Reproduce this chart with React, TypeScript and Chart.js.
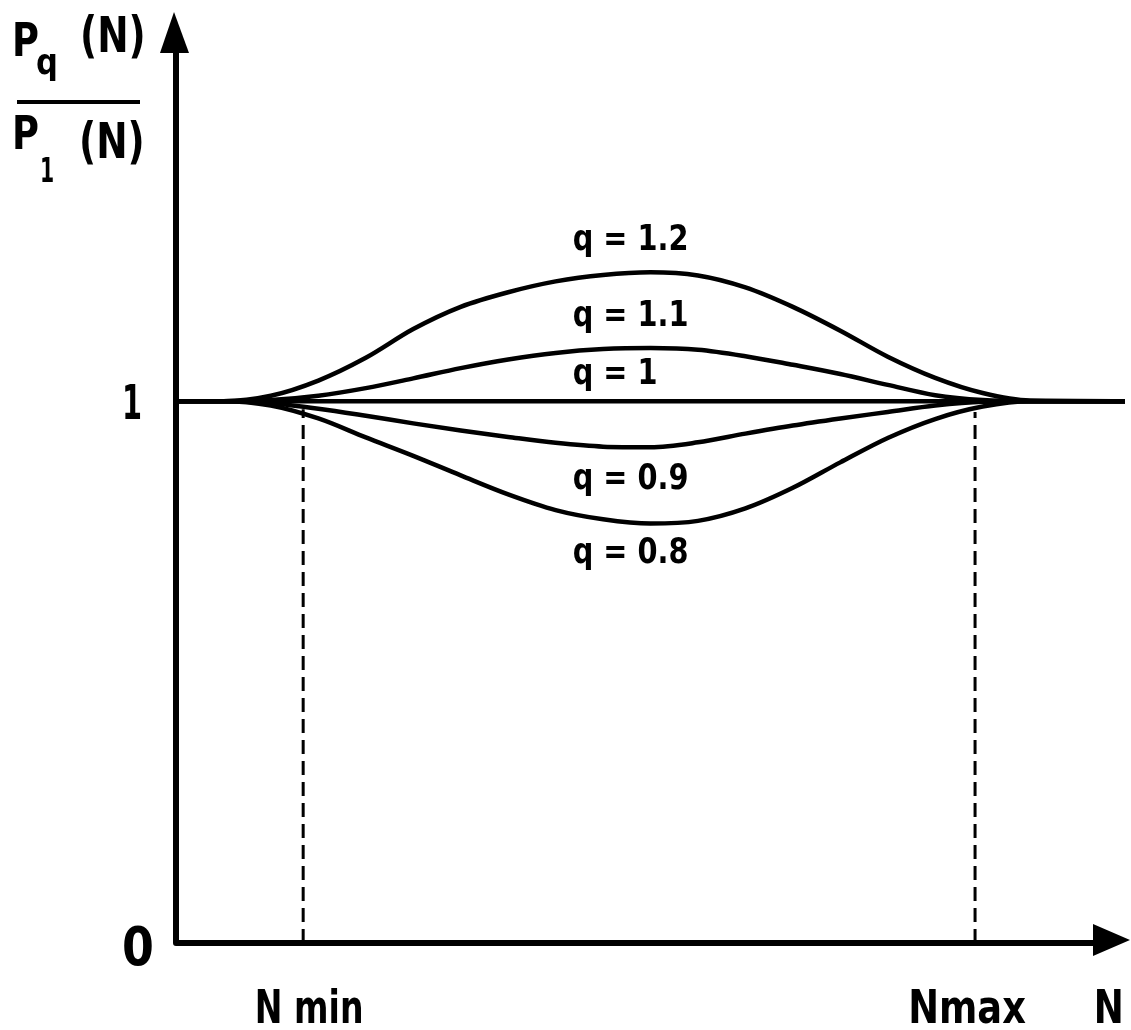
import { useEffect, useRef } from "react";
import { Chart, registerables } from "chart.js";

Chart.register(...registerables);

// N positions (arbitrary linear units, 0 = origin, 100 = arrow tip)
const N = [0, 5, 10, 15, 20, 25, 30, 35, 40, 45, 50, 55, 60, 65, 70, 75, 80, 85, 90, 100];

const q12 = [1, 1, 1.01, 1.038, 1.08, 1.133, 1.174, 1.201, 1.221, 1.233, 1.238, 1.232, 1.21, 1.174, 1.13, 1.082, 1.043, 1.015, 1.001, 1];
const q11 = [1, 1, 1.002, 1.01, 1.024, 1.042, 1.061, 1.077, 1.089, 1.096, 1.098, 1.095, 1.083, 1.067, 1.05, 1.03, 1.011, 1.002, 1, 1];
const q10 = [1, 1, 1, 1, 1, 1, 1, 1, 1, 1, 1, 1, 1, 1, 1, 1, 1, 1, 1, 1];
const q09 = [1, 1, 0.996, 0.986, 0.973, 0.959, 0.946, 0.934, 0.923, 0.916, 0.915, 0.924, 0.94, 0.955, 0.968, 0.98, 0.992, 0.999, 1, 1];
const q08 = [1, 1, 0.992, 0.968, 0.933, 0.899, 0.863, 0.828, 0.799, 0.782, 0.774, 0.779, 0.802, 0.84, 0.887, 0.932, 0.967, 0.99, 1, 1];

const seriesLabels = ["q = 1.2", "q = 1.1", "q = 1", "q = 0.9", "q = 0.8"];

// Dashed limits
const limitN = [13.4, 84.2];
const limitTop = [0.985, 0.98];
const xTickLabels = ["N min", "Nmax"];
const yTicks = [0, 1];
const yTickLabels = ["0", "1"];

const FONT = '"DejaVu Sans", "Liberation Sans", sans-serif';

function drawText(
  ctx: CanvasRenderingContext2D,
  s: string,
  x: number,
  y: number,
  size: number,
  align: CanvasTextAlign,
  sx = 0.8
) {
  ctx.save();
  ctx.font = `bold ${size}px ${FONT}`;
  ctx.textBaseline = "alphabetic";
  ctx.textAlign = align;
  ctx.fillStyle = "#000";
  ctx.translate(x, y);
  ctx.scale(sx, 1);
  ctx.fillText(s, 0, 0);
  ctx.restore();
}

const axesPlugin = {
  id: "handAxes",
  beforeDatasetsDraw(chart: any) {
    const ctx: CanvasRenderingContext2D = chart.ctx;
    const { left, bottom, right } = chart.chartArea;
    ctx.save();
    ctx.strokeStyle = "#000";
    ctx.fillStyle = "#000";
    ctx.lineWidth = 6;
    ctx.lineJoin = "round";
    ctx.lineCap = "butt";
    ctx.beginPath();
    ctx.moveTo(left, 50);
    ctx.lineTo(left, bottom);
    ctx.lineTo(right - 30, bottom);
    ctx.stroke();
    // up arrow
    ctx.beginPath();
    ctx.moveTo(left - 2, 12);
    ctx.lineTo(left - 16, 53);
    ctx.lineTo(left + 13, 53);
    ctx.closePath();
    ctx.fill();
    // right arrow
    ctx.beginPath();
    ctx.moveTo(right + 5, bottom - 3);
    ctx.lineTo(right - 32, bottom - 19);
    ctx.lineTo(right - 32, bottom + 13);
    ctx.closePath();
    ctx.fill();
    ctx.restore();
  },
  afterDraw(chart: any) {
    const ctx: CanvasRenderingContext2D = chart.ctx;
    const xs = chart.scales.x;
    const ys = chart.scales.y;
    // y ticks
    yTicks.forEach((v, i) => {
      const py = ys.getPixelForValue(v);
      if (v === 0) drawText(ctx, yTickLabels[i], 138, py + 22, 54, "center", 0.85);
      else drawText(ctx, yTickLabels[i], 132, py + 18, 48, "center", 0.6);
    });
    // x ticks
    limitN.forEach((v, i) => {
      const px = xs.getPixelForValue(v);
      drawText(ctx, xTickLabels[i], i === 0 ? px + 6 : px - 8, 1023, 46, "center", i === 0 ? 0.72 : 0.8);
    });
    drawText(ctx, "N", xs.getPixelForValue(98.3), 1023, 46, "center", 0.78);

    // curve labels (anchored in data units)
    const labelY = [1.279, 1.139, 1.032, 0.838, 0.701];
    seriesLabels.forEach((s, i) => {
      drawText(ctx, s, xs.getPixelForValue(41.8), ys.getPixelForValue(labelY[i]), 36, "left", 0.8);
    });

    // y-axis title: Pq(N) / P1(N)
    drawText(ctx, "P", 12, 56, 46, "left", 0.8);
    drawText(ctx, "q", 36, 74, 36, "left", 0.85);
    drawText(ctx, "(N)", 80, 52, 50, "left", 0.75);
    ctx.save();
    ctx.strokeStyle = "#000";
    ctx.lineWidth = 4;
    ctx.beginPath();
    ctx.moveTo(17, 102);
    ctx.lineTo(140, 102);
    ctx.stroke();
    ctx.restore();
    drawText(ctx, "P", 12, 149, 46, "left", 0.8);
    drawText(ctx, "1", 40, 182, 34, "left", 0.6);
    drawText(ctx, "(N)", 79, 158, 50, "left", 0.75);
  },
};

export default function App() {
  const ref = useRef<HTMLCanvasElement | null>(null);

  useEffect(() => {
    if (!ref.current) return;
    const mk = (arr: number[]) => N.map((x, i) => ({ x, y: arr[i] }));
    const curve = (label: string, arr: number[]) => ({
      label,
      data: mk(arr),
      borderColor: "#000",
      borderWidth: 4.5,
      pointRadius: 0,
      cubicInterpolationMode: "monotone" as const,
      fill: false,
    });
    const dashed = (i: number) => ({
      label: xTickLabels[i],
      data: [
        { x: limitN[i], y: 0 },
        { x: limitN[i], y: limitTop[i] },
      ],
      borderColor: "#000",
      borderWidth: 3,
      borderDash: [14, 7],
      pointRadius: 0,
      tension: 0,
      fill: false,
    });
    const chart = new Chart(ref.current, {
      type: "line",
      data: {
        datasets: [
          curve(seriesLabels[0], q12),
          curve(seriesLabels[1], q11),
          curve(seriesLabels[2], q10),
          curve(seriesLabels[3], q09),
          curve(seriesLabels[4], q08),
          dashed(0),
          dashed(1),
        ] as any,
      },
      options: {
        animation: false,
        responsive: false,
        devicePixelRatio: 1,
        layout: { padding: { left: 176, right: 6, top: 11, bottom: 87 } },
        plugins: { legend: { display: false }, tooltip: { enabled: false } },
        scales: {
          x: { type: "linear", min: 0, max: 100, display: false },
          y: { type: "linear", min: 0, max: 1.72, display: false },
        },
      },
      plugins: [axesPlugin],
    });
    return () => chart.destroy();
  }, []);

  return (
    <div style={{ position: "absolute", left: 0, top: 0, width: 1131, height: 1030, background: "#fff" }}>
      <canvas ref={ref} width={1131} height={1030} />
    </div>
  );
}
